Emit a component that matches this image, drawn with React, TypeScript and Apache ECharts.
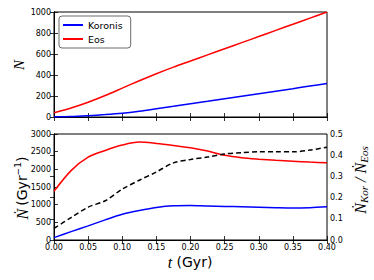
import React, { useEffect, useRef } from "react";
import * as echarts from "echarts";

const tValues = [0, 0.025, 0.05, 0.075, 0.1, 0.125, 0.15, 0.175, 0.2, 0.225, 0.25, 0.275, 0.3, 0.325, 0.35, 0.375, 0.4];
const koronisN = [2, 5, 13, 23, 36, 55, 78, 102, 127, 150, 174, 198, 222, 246, 270, 295, 320];
const eosN = [40, 85, 140, 205, 275, 345, 412, 475, 533, 592, 650, 708, 766, 825, 883, 942, 1000];
const koronisRate = [68, 238, 400, 570, 731, 836, 921, 968, 975, 960, 950, 940, 930, 915, 905, 915, 940];
const eosRate = [1378, 1964, 2345, 2533, 2687, 2772, 2733, 2676, 2610, 2516, 2400, 2330, 2288, 2255, 2231, 2205, 2183];
const rateRatio = [0.055, 0.106, 0.155, 0.185, 0.24, 0.282, 0.321, 0.364, 0.38, 0.391, 0.406, 0.412, 0.416, 0.416, 0.416, 0.424, 0.438];

const pairs = (ys: number[]) => tValues.map((t, i) => [t, ys[i]]);

const SANS = "DejaVu Sans";
const SERIF = "Liberation Serif";

export default function App() {
  const ref = useRef<HTMLDivElement>(null);
  useEffect(() => {
    if (!ref.current) return;
    const chart = echarts.init(ref.current, null, { renderer: "svg" });
    const axisLine = { show: true, lineStyle: { color: "#000", width: 1 } };
    const tick = { show: true, inside: true, length: 4, lineStyle: { color: "#000", width: 0.8 } };
    const lbl = { fontSize: 8, fontFamily: SANS, color: "#000" };
    const xBase = { type: "value" as const, min: 0, max: 0.4, interval: 0.05, axisLine, axisTick: tick, splitLine: { show: false } };
    const plain = (v: number) => String(v);
    const option: any = {
      animation: false,
      grid: [
        { left: 54, top: 12, width: 273, height: 105, show: true, borderColor: "#000", borderWidth: 1 },
        { left: 54, top: 134, width: 273, height: 106, show: true, borderColor: "#000", borderWidth: 1 },
      ],
      xAxis: [
        { ...xBase, gridIndex: 0, position: "bottom", axisLabel: { show: false } },
        { ...xBase, gridIndex: 0, position: "top", axisLabel: { show: false } },
        { ...xBase, gridIndex: 1, position: "bottom", axisLabel: { ...lbl, margin: 3, formatter: (v: number) => v.toFixed(2) } },
        { ...xBase, gridIndex: 1, position: "top", axisLabel: { show: false } },
      ],
      yAxis: [
        { type: "value", gridIndex: 0, position: "left", min: 0, max: 1000, interval: 200, axisLine, axisTick: tick, splitLine: { show: false }, axisLabel: { ...lbl, margin: 3, formatter: plain } },
        { type: "value", gridIndex: 0, position: "right", min: 0, max: 1000, interval: 200, axisLine, axisTick: tick, splitLine: { show: false }, axisLabel: { show: false } },
        { type: "value", gridIndex: 1, position: "left", min: 0, max: 3000, interval: 500, axisLine, axisTick: tick, splitLine: { show: false }, axisLabel: { ...lbl, margin: 3, formatter: plain } },
        { type: "value", gridIndex: 1, position: "right", min: 0, max: 0.5, interval: 0.1, axisLine, axisTick: tick, splitLine: { show: false }, axisLabel: { ...lbl, margin: 3, formatter: (v: number) => v.toFixed(1) } },
      ],
      legend: {
        orient: "vertical",
        left: 59,
        top: 16,
        data: [{ name: "Koronis", icon: "rect" }, { name: "Eos", icon: "rect" }],
        itemWidth: 20,
        itemHeight: 2,
        itemGap: 4,
        textStyle: { fontSize: 9.5, fontFamily: SANS, color: "#000" },
        borderColor: "#444",
        borderWidth: 0.8,
        borderRadius: 3,
        padding: [4, 8, 4, 4],
      },
      series: [
        { name: "Koronis", type: "line", xAxisIndex: 0, yAxisIndex: 0, data: pairs(koronisN), showSymbol: false, smooth: 0.3, lineStyle: { color: "#0000ff", width: 1.5 }, itemStyle: { color: "#0000ff" } },
        { name: "Eos", type: "line", xAxisIndex: 0, yAxisIndex: 0, data: pairs(eosN), showSymbol: false, smooth: 0.3, lineStyle: { color: "#ff0000", width: 1.5 }, itemStyle: { color: "#ff0000" } },
        { name: "Koronis rate", type: "line", xAxisIndex: 2, yAxisIndex: 2, data: pairs(koronisRate), showSymbol: false, smooth: 0.3, lineStyle: { color: "#0000ff", width: 1.5 } },
        { name: "Eos rate", type: "line", xAxisIndex: 2, yAxisIndex: 2, data: pairs(eosRate), showSymbol: false, smooth: 0.3, lineStyle: { color: "#ff0000", width: 1.5 } },
        { name: "Ratio", type: "line", xAxisIndex: 2, yAxisIndex: 3, data: pairs(rateRatio), showSymbol: false, smooth: 0.3, lineStyle: { color: "#000", width: 1.5, type: [5, 3] } },
      ],
      graphic: [
        {
          type: "text", x: 19, y: 65, rotation: Math.PI / 2,
          style: { text: "N", font: `italic 15px "${SERIF}"`, fill: "#000", align: "center", verticalAlign: "middle" },
        },
        {
          type: "text", x: 22, y: 188, rotation: Math.PI / 2,
          style: {
            text: "{n|Ṅ}{s|(Gyr}{sup|−1}{s|)}",
            align: "center", verticalAlign: "middle", fill: "#000",
            rich: {
              n: { fontFamily: SERIF, fontStyle: "italic", fontSize: 16, lineHeight: 18, verticalAlign: "middle", padding: [0, 3, 0, 0] },
              s: { fontFamily: SANS, fontSize: 14, lineHeight: 18, verticalAlign: "middle" },
              sup: { fontFamily: SANS, fontSize: 9, lineHeight: 9, verticalAlign: "top" },
            },
          },
        },
        {
          type: "text", x: 360, y: 180, rotation: Math.PI / 2,
          style: {
            text: "{n|Ṅ}{sub|Kor}{n| / Ṅ}{sub|Eos}",
            align: "center", verticalAlign: "middle", fill: "#000",
            rich: {
              n: { fontFamily: SERIF, fontStyle: "italic", fontSize: 16, lineHeight: 18, verticalAlign: "middle" },
              sub: { fontFamily: SERIF, fontStyle: "italic", fontSize: 11, lineHeight: 10, verticalAlign: "bottom" },
            },
          },
        },
        {
          type: "text", x: 190, y: 262,
          style: {
            text: "{n|t}{s| (Gyr)}",
            align: "center", verticalAlign: "middle", fill: "#000",
            rich: {
              n: { fontFamily: SERIF, fontStyle: "italic", fontSize: 16, lineHeight: 18 },
              s: { fontFamily: SANS, fontSize: 14, lineHeight: 18 },
            },
          },
        },
      ],
    };
    chart.setOption(option);
    return () => chart.dispose();
  }, []);
  return <div ref={ref} style={{ position: "absolute", left: 0, top: 0, width: 374, height: 280 }} />;
}
